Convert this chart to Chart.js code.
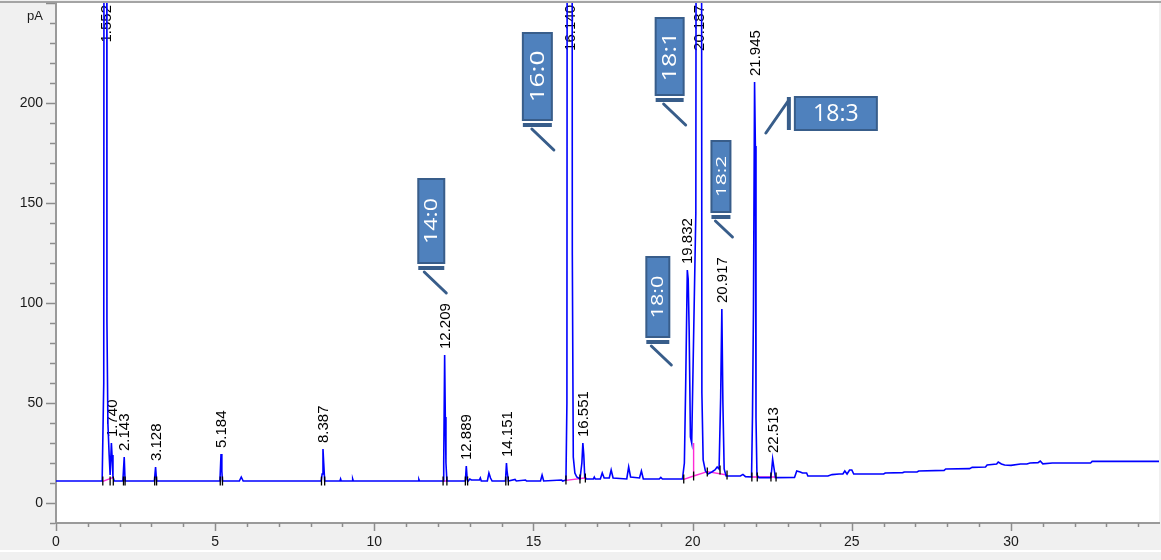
<!DOCTYPE html>
<html>
<head>
<meta charset="utf-8">
<script src="https://cdn.jsdelivr.net/npm/chart.js@4.4.1/dist/chart.umd.min.js"></script>
<style>
  html, body { margin: 0; padding: 0; background: #f0f0f0; }
  #wrap { width: 1161px; height: 560px; }
</style>
</head>
<body>
<div id="wrap"><canvas id="gc" width="1161" height="560"></canvas></div>
<script>
// FID trace: retention time (min) and detector signal (pA)
const traceTime = [
  0.00, 1.45, 1.50, 1.53, 1.552, 1.58, 1.60, 1.63, 1.67, 1.70, 1.740, 1.76, 1.79, 1.83,
  2.10, 2.143, 2.17, 3.09, 3.128, 3.16,
  5.15, 5.184, 5.21, 5.23, 5.76, 5.82, 5.88,
  8.33, 8.36, 8.387, 8.41, 8.44, 8.92, 8.94, 8.96, 9.30, 9.32, 9.34, 11.38, 11.40, 11.42,
  12.16, 12.18, 12.209, 12.23, 12.25, 12.28, 12.86, 12.889, 12.92, 12.95,
  13.00, 13.05, 13.30, 13.33, 13.36, 13.55, 13.60, 13.65, 13.70,
  14.12, 14.151, 14.17, 14.21, 14.42, 14.46, 14.75, 14.78, 15.22, 15.27, 15.32, 15.88, 15.92,
  16.02, 16.05, 16.08, 16.140, 16.19, 16.22, 16.25, 16.30, 16.36, 16.46, 16.52, 16.551, 16.58, 16.61, 16.66,
  16.88, 16.91, 16.94, 17.10, 17.16, 17.22, 17.38, 17.44, 17.50, 17.93, 17.99, 18.05, 18.33, 18.39, 18.45, 18.95, 19.00, 19.05,
  19.68, 19.74, 19.78, 19.832, 19.86, 19.89, 19.93, 19.97, 20.10, 20.15, 20.187, 20.25, 20.29, 20.33, 20.40, 20.48, 20.60, 20.70, 20.77, 20.83,
  20.88, 20.917, 20.95, 20.99, 21.05, 21.50, 21.58, 21.66, 21.85, 21.88, 21.91, 21.945, 21.97, 21.99, 22.02, 22.08,
  22.45, 22.48, 22.513, 22.55, 22.60,
  23.20, 23.27, 23.38, 23.45, 23.58, 23.62, 24.25, 24.38, 24.60, 24.72, 24.78, 24.85, 24.93, 25.00, 25.06,
  26.00, 26.05, 26.60, 26.65, 27.05, 27.10, 27.90, 27.95, 28.70, 28.78, 29.20, 29.25, 29.55, 29.60, 29.70, 29.80,
  30.00, 30.30, 30.50, 30.60, 30.85, 30.92, 31.00, 31.30, 32.50, 32.55, 34.65
];
const traceSignal = [
  11, 11, 60, 1000, 1000, 1000, 91, 40, 24, 14, 30, 24, 13, 11,
  11, 23, 11, 11, 18, 11,
  11, 24.5, 16, 11, 11, 13, 11,
  11, 14.5, 27, 20, 11, 11, 12, 11, 11, 12, 11, 11, 11.8, 11,
  11, 20, 74, 43, 20, 11, 11, 18.5, 11.5, 11,
  12, 11.5, 11.5, 12.5, 11, 11, 15, 12.5, 11,
  11, 20, 16, 11, 11.8, 11, 11.5, 11, 11, 14, 11, 11.5, 11,
  11.5, 50, 1000, 1000, 1000, 124, 23, 15, 13, 12, 20, 30, 24, 13, 12,
  12, 13, 12, 12, 15, 12.5, 12.5, 16.5, 12.5, 12, 18, 13, 12.5, 16, 12, 12, 12.8, 12,
  12, 20, 58, 116.5, 112, 86.5, 33, 30, 145, 1000, 1000, 1000, 55, 21.5, 16, 14.5, 15.5, 16.5, 18, 17,
  53, 97, 50, 17, 13.5, 13.5, 14.3, 13.2, 13, 44, 97, 210.5, 178.5, 42.5, 14, 12.7,
  12.7, 16, 22, 18, 12.7,
  12.8, 16, 15.5, 15, 15, 13.5, 13.5, 14.2, 14.5, 14.5, 16, 14.5, 16.5, 16.5, 14.5,
  14.5, 15, 15.2, 15.5, 15.5, 16, 16.3, 17, 17.2, 17.8, 18, 19, 19.5, 20.5, 19.5, 19,
  18.8, 19.5, 19.5, 20, 20.2, 21, 19.6, 20, 20, 20.8, 20.8
];

// integrated peaks: retention time labels and apex heights (pA)
const peakLabels  = ['1.552', '1.740', '2.143', '3.128', '5.184', '8.387', '12.209', '12.889',
                     '14.151', '16.140', '16.551', '19.832', '20.187', '20.917', '21.945', '22.513'];
const peakTimes   = [1.552, 1.740, 2.143, 3.128, 5.184, 8.387, 12.209, 12.889,
                     14.151, 16.140, 16.551, 19.832, 20.187, 20.917, 21.945, 22.513];
const peakHeights = [1000, 30, 23, 18, 24.5, 27, 74, 18.5,
                     20, 1000, 30, 116.5, 1000, 97, 210.5, 22];

// integration baselines (null separates segments)
const baseTime  = [1.47, 1.80, null, 12.16, 12.28, null, 16.02, 16.66, null,
                   19.72, 20.03, 20.46, 21.08, null, 20.03, 20.03, null, 21.86, 22.62];
const baseLevel = [10.8, 12.8, null, 11, 11, null, 11.3, 12.6, null,
                   11.8, 13.5, 15.7, 14, null, 13.5, 30, null, 13, 13];

// peak start / end markers
const markTime  = [1.47, 1.70, 1.80, 2.12, 2.17, 3.10, 3.16, 5.16, 5.23, 8.34, 8.44, 12.16, 12.28, 12.86, 12.93,
                   14.13, 14.21, 16.02, 16.46, 16.63, 19.72, 20.03, 20.46, 20.86, 21.08, 21.86, 22.03, 22.46, 22.62];
const markLevel = [11, 11, 11, 11, 11, 11, 11, 11, 11, 11, 11, 11, 11, 11, 11,
                   11, 11, 11.5, 12, 12.5, 12, 13.5, 15.5, 16.5, 14, 13, 13, 13, 13];

// fatty acid assignments
const calloutNames = ['14:0', '16:0', '18:0', '18:1', '18:2', '18:3'];

// axis tick labels
const xTickLabels = [0, 5, 10, 15, 20, 25, 30];
const yTickLabels = [0, 50, 100, 150, 200];

// ---- presentation ----
const FONT = '"Liberation Sans", Arial, sans-serif';
const BOX_FILL = '#4f81bd', BOX_EDGE = '#385d8a';

// pointer tip (time, pA) plus box geometry for each assignment
const calloutLayout = [
  { t: 12.26, v: 105,   side: 'up',    w: 26, h: 84, lean: 22, font: 18, stretch: 1.29 },
  { t: 15.64, v: 176.5, side: 'up',    w: 29, h: 87, lean: 22, font: 20, stretch: 1.32 },
  { t: 19.33, v: 69,    side: 'up',    w: 23, h: 80, lean: 20, font: 16, stretch: 1.36 },
  { t: 19.78, v: 189,   side: 'up',    w: 28, h: 77, lean: 22, font: 20, stretch: 1.26 },
  { t: 21.25, v: 133,   side: 'up',    w: 19, h: 71, lean: 17, font: 15, stretch: 1.40 },
  { t: 22.30, v: 185,   side: 'right', w: 82, h: 33, lean: 23, font: 23, stretch: 1.00 }
];

const tracePts = traceTime.map((t, i) => ({ x: t, y: traceSignal[i] }));
let lastT = 0;
const basePts = baseTime.map((t, i) => {
  if (t !== null) lastT = t;
  return { x: lastT, y: baseLevel[i] };
});
const markPts = markTime.map((t, i) => ({ x: t, y: markLevel[i] }));

const frame = {
  id: 'frame',
  beforeDraw(chart) {
    const { ctx, chartArea: a, width, height } = chart;
    ctx.save();
    ctx.fillStyle = '#f0f0f0';
    ctx.fillRect(0, 0, width, height);
    ctx.fillStyle = '#ffffff';
    ctx.fillRect(a.left, a.top, a.right - a.left, a.bottom - a.top);
    ctx.fillStyle = '#a4a4a4';
    ctx.fillRect(0, 1, width, 2);
    ctx.fillStyle = '#ffffff';
    ctx.fillRect(0, 550, width, 2);
    ctx.restore();
  },
  afterDraw(chart) {
    const { ctx, chartArea: a, scales: { x, y } } = chart;
    ctx.save();
    ctx.strokeStyle = '#8c8c8c';
    ctx.lineWidth = 1.5;
    ctx.beginPath();
    for (let v = -10; v <= 250; v += 10) {
      const py = Math.round(y.getPixelForValue(v)) + 0.5;
      const len = v % 50 === 0 ? 9 : 5;
      ctx.moveTo(a.left - 1 - len, py);
      ctx.lineTo(a.left - 1, py);
    }
    for (let t = 0; t <= 34; t += 1) {
      const px = Math.round(x.getPixelForValue(t)) + 0.5;
      const len = t % 5 === 0 ? 8 : 4;
      ctx.moveTo(px, a.bottom);
      ctx.lineTo(px, a.bottom + len);
    }
    ctx.stroke();
    ctx.fillStyle = '#1a1a1a';
    ctx.font = '13px ' + FONT;
    ctx.textAlign = 'right';
    ctx.textBaseline = 'middle';
    ctx.fillText('pA', 43, 16);
    ctx.restore();
  }
};

const peakText = {
  id: 'peakText',
  beforeDatasetsDraw(chart) {
    const { ctx, chartArea: a, scales: { x, y } } = chart;
    ctx.save();
    ctx.font = '15px ' + FONT;
    ctx.fillStyle = '#000';
    ctx.textAlign = 'left';
    ctx.textBaseline = 'middle';
    peakLabels.forEach((lab, i) => {
      const cx = x.getPixelForValue(peakTimes[i]);
      const w = ctx.measureText(lab).width;
      let base = y.getPixelForValue(peakHeights[i]) - 6;
      if (base - w < a.top + 2) base = a.top + 2 + w;
      ctx.save();
      ctx.translate(cx + 1, base);
      ctx.rotate(-Math.PI / 2);
      ctx.fillText(lab, 0, 0);
      ctx.restore();
    });
    ctx.restore();
  }
};

const callouts = {
  id: 'callouts',
  afterDatasetsDraw(chart) {
    const { ctx, scales: { x, y } } = chart;
    ctx.save();
    calloutLayout.forEach((c, i) => {
      const tx = x.getPixelForValue(c.t), ty = y.getPixelForValue(c.v);
      let bx, by, endX, endY, bar;
      if (c.side === 'up') {
        const bottom = ty - c.lean - 8;
        bx = tx - 2 - c.w; by = bottom - c.h;
        endX = tx - c.lean; endY = ty - c.lean + 1;
        bar = [bx, ty - c.lean - 3, bx + c.w, ty - c.lean - 3];
      } else {
        bx = tx + c.lean + 6; by = ty - 36;
        endX = tx + c.lean; endY = by + 3;
        bar = [tx + c.lean, by, tx + c.lean, by + c.h];
      }
      ctx.strokeStyle = BOX_EDGE;
      ctx.lineCap = 'round';
      ctx.lineWidth = 3;
      ctx.beginPath(); ctx.moveTo(tx, ty); ctx.lineTo(endX, endY); ctx.stroke();
      ctx.lineCap = 'butt';
      ctx.lineWidth = 4;
      ctx.beginPath(); ctx.moveTo(bar[0], bar[1]); ctx.lineTo(bar[2], bar[3]); ctx.stroke();
      ctx.fillStyle = BOX_FILL;
      ctx.fillRect(bx, by, c.w, c.h);
      ctx.lineWidth = 2;
      ctx.strokeRect(bx, by, c.w, c.h);
      ctx.save();
      ctx.translate(bx + c.w / 2, by + c.h / 2);
      if (c.side === 'up') ctx.rotate(-Math.PI / 2);
      ctx.scale(c.stretch, 1);
      ctx.fillStyle = '#ffffff';
      ctx.font = c.font + 'px "Open Sans", ' + FONT;
      ctx.textAlign = 'center';
      ctx.textBaseline = 'middle';
      ctx.fillText(calloutNames[i], 0, 1);
      ctx.restore();
    });
    ctx.restore();
  }
};

new Chart(document.getElementById('gc'), {
  type: 'line',
  data: {
    datasets: [
      { label: 'signal', data: tracePts, borderColor: '#0000ff', borderWidth: 1.6,
        pointRadius: 0, tension: 0, order: 1 },
      { label: 'baseline', data: basePts, borderColor: '#ff2bd6', borderWidth: 1.4,
        pointRadius: 0, tension: 0, spanGaps: false, order: 2 },
      { type: 'scatter', label: 'marks', data: markPts, showLine: false,
        pointStyle: 'line', pointRotation: 90, pointRadius: 4.5,
        pointBorderColor: '#000', pointBorderWidth: 1.3, order: 0 }
    ]
  },
  options: {
    responsive: false,
    animation: false,
    events: [],
    layout: { autoPadding: false, padding: { left: 0, right: 2, top: 3, bottom: 0 } },
    plugins: { legend: { display: false }, tooltip: { enabled: false } },
    scales: {
      x: {
        type: 'linear', min: 0, max: 34.65,
        afterFit: s => { s.height = 37; s.paddingLeft = 0; s.paddingRight = 0; },
        grid: { display: false, drawTicks: false },
        border: { display: true, color: '#9a9a9a', width: 2 },
        ticks: {
          stepSize: 5, autoSkip: false, maxRotation: 0, padding: 11,
          color: '#1a1a1a', font: { family: FONT, size: 14 },
          callback: v => xTickLabels.includes(v) ? String(v) : null
        }
      },
      y: {
        type: 'linear', min: -10, max: 250,
        afterFit: s => { s.width = 56; s.paddingTop = 0; s.paddingBottom = 0; },
        grid: { display: false, drawTicks: false },
        border: { display: true, color: '#9a9a9a', width: 2 },
        ticks: {
          stepSize: 50, autoSkip: false, padding: 13,
          color: '#1a1a1a', font: { family: FONT, size: 14 },
          callback: v => yTickLabels.includes(v) ? String(v) : null
        }
      }
    }
  },
  plugins: [frame, peakText, callouts]
});
</script>
</body>
</html>
